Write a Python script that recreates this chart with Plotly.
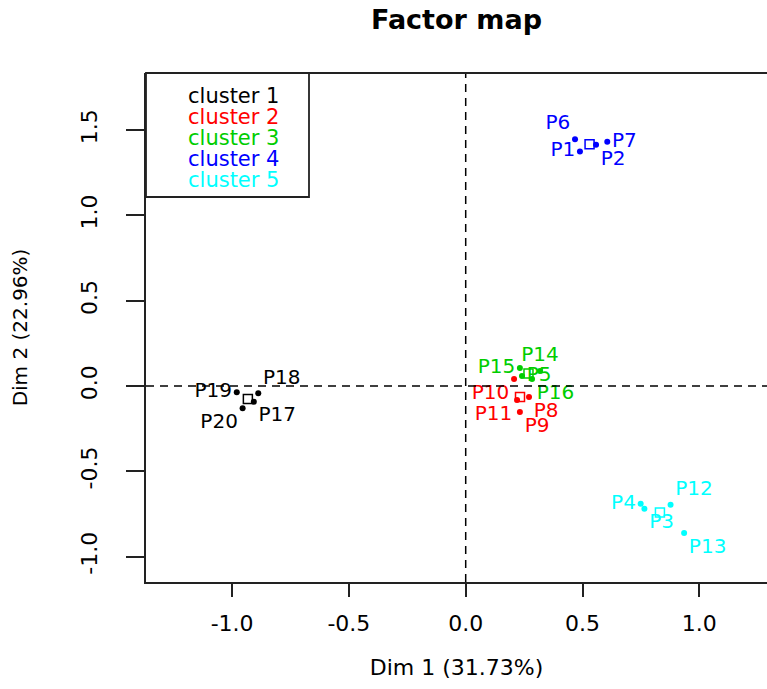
import numpy as np
import plotly.graph_objects as go

# ---- data ----
labels = ["P1", "P2", "P3", "P4", "P5", "P6", "P7", "P8", "P9", "P10",
          "P11", "P12", "P13", "P14", "P15", "P16", "P17", "P18", "P19", "P20"]
dim1 = [0.489, 0.558, 0.765, 0.749, 0.241, 0.468, 0.606, 0.271, 0.232, 0.207,
        0.220, 0.877, 0.935, 0.318, 0.232, 0.284, -0.907, -0.888, -0.980, -0.955]
dim2 = [1.375, 1.414, -0.719, -0.690, 0.059, 1.447, 1.431, -0.065, -0.153, 0.041,
        -0.082, -0.696, -0.861, 0.088, 0.106, 0.041, -0.092, -0.043, -0.037, -0.131]
cluster = [4, 4, 5, 5, 3, 4, 4, 2, 2, 2,
           2, 5, 5, 3, 3, 3, 1, 1, 1, 1]
cluster_names = ["cluster 1", "cluster 2", "cluster 3", "cluster 4", "cluster 5"]
x_ticks = [-1.0, -0.5, 0.0, 0.5, 1.0]
x_ticktext = ["-1.0", "-0.5", "0.0", "0.5", "1.0"]
y_ticks = [-1.0, -0.5, 0.0, 0.5, 1.0, 1.5]
y_ticktext = ["-1.0", "-0.5", "0.0", "0.5", "1.0", "1.5"]
title = "Factor map"
x_title = "Dim 1 (31.73%)"
y_title = "Dim 2 (22.96%)"

# ---- styles ----
colors = ["#000000", "#FF0000", "#00CD00", "#0000FF", "#00FFFF"]
label_pos = ["middle left", "bottom right", "bottom right", "middle left", "middle right",
             "top left", "middle right", "bottom right", "bottom right", "bottom left",
             "bottom left", "top right", "bottom right", "top center", "middle left",
             "bottom right", "bottom right", "top right", "middle left", "bottom left"]
FONT = "DejaVu Sans"

W, H = 767, 689
L, T, B, R = 146, 73, 107, 0
plot_w = W - L - R
plot_h = H - T - B

fig = go.Figure()

dim1_a = np.array(dim1)
dim2_a = np.array(dim2)
clus_a = np.array(cluster)
for k in range(1, 6):
    idx = np.where(clus_a == k)[0]
    col = colors[k - 1]
    fig.add_trace(go.Scatter(
        x=dim1_a[idx], y=dim2_a[idx], mode="markers+text",
        text=[labels[i] for i in idx],
        textposition=[label_pos[i] for i in idx],
        marker=dict(color=col, size=6),
        textfont=dict(color=col, size=20, family=FONT),
        cliponaxis=False, showlegend=False, hoverinfo="skip"))
    fig.add_trace(go.Scatter(
        x=[dim1_a[idx].mean()], y=[dim2_a[idx].mean()], mode="markers",
        marker=dict(symbol="square-open", size=9, color=col, line=dict(width=1.5, color=col)),
        cliponaxis=False, showlegend=False, hoverinfo="skip"))

shapes = [
    dict(type="line", xref="paper", yref="y", x0=0, x1=1, y0=0, y1=0,
         line=dict(color="black", width=1.5, dash="8px,6px")),
    dict(type="line", xref="x", yref="paper", x0=0, x1=0, y0=0, y1=1,
         line=dict(color="black", width=1.5, dash="8px,6px")),
    dict(type="line", xref="paper", yref="paper", x0=0, x1=1, y0=1, y1=1,
         line=dict(color="#222222", width=1.8)),
    dict(type="rect", xref="paper", yref="paper",
         x0=0, x1=(309 - L) / plot_w, y0=1 - (197 - T) / plot_h, y1=1,
         line=dict(color="#222222", width=1.8), fillcolor="white", layer="above"),
]

annotations = []
for j, name in enumerate(cluster_names):
    py = 96 + 21 * j
    annotations.append(dict(
        text=name, xref="paper", yref="paper",
        x=(186 - L) / plot_w, y=1 - (py - T) / plot_h,
        xanchor="left", yanchor="middle", showarrow=False,
        font=dict(color=colors[j], size=21, family=FONT)))

fig.update_layout(
    width=W, height=H,
    margin=dict(l=L, r=R, t=T, b=B),
    plot_bgcolor="white", paper_bgcolor="white",
    title=dict(text="<b>" + title + "</b>", x=0.5, xref="paper", xanchor="center",
               y=1 - 20 / H, yanchor="middle",
               font=dict(family=FONT, size=27, color="black")),
    xaxis=dict(range=[(L - 465.7) / 233.6, (W - 465.7) / 233.6],
               tickvals=x_ticks, ticktext=x_ticktext,
               ticks="outside", ticklen=13, tickwidth=1.5, tickcolor="#222222",
               showline=True, linecolor="#222222", linewidth=1.8,
               showgrid=False, zeroline=False, ticklabelstandoff=8,
               tickfont=dict(family=FONT, size=22, color="black"),
               title=dict(text=x_title, standoff=24,
                          font=dict(family=FONT, size=22, color="black"))),
    yaxis=dict(range=[(386 - (H - B)) / 170.6, (386 - T) / 170.6],
               tickvals=y_ticks, ticktext=y_ticktext, tickangle=-90,
               ticks="outside", ticklen=18, tickwidth=1.5, tickcolor="#222222",
               showline=True, linecolor="#222222", linewidth=1.8,
               showgrid=False, zeroline=False, ticklabelstandoff=20,
               tickfont=dict(family=FONT, size=22, color="black"),
               title=dict(text=y_title, standoff=44,
                          font=dict(family=FONT, size=20, color="black"))),
    shapes=shapes, annotations=annotations,
)

fig.write_html("out.html",
               config={"displayModeBar": False},
               post_script="document.body.style.margin='0';document.body.style.overflow='hidden';")
